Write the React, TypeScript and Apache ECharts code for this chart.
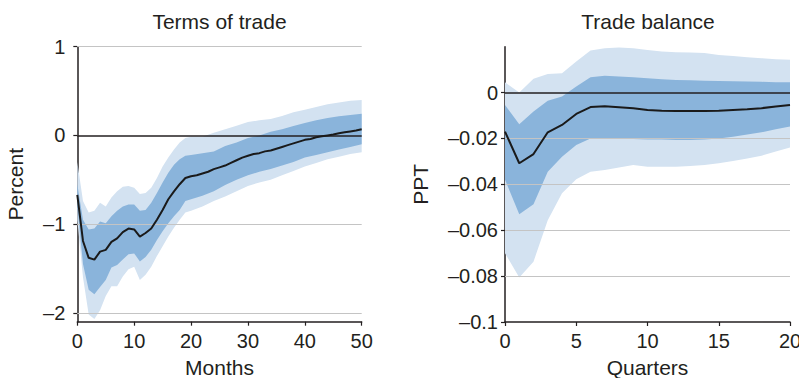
import React, { useEffect, useRef } from "react";
import * as echarts from "echarts";

const FONT = '"Liberation Sans", Arial, Helvetica, sans-serif';
const INK = "#231f20";
const LIGHT_BAND = "#d3e2f1";
const DARK_BAND = "#8ab4db";
const GRID_GREY = "#c4c4c4";

// ---- Terms of trade (months) ----
const months = [
  0, 1, 2, 3, 4, 5, 6, 7, 8, 9, 10, 11, 12, 13, 14, 15, 16, 17, 18, 19, 20,
  21, 22, 23, 24, 25, 26, 27, 28, 29, 30, 31, 32, 33, 34, 35, 36, 37, 38, 39,
  40, 41, 42, 43, 44, 45, 46, 47, 48, 49, 50,
];
const totMedian = [
  -0.67, -1.19, -1.38, -1.4, -1.31, -1.29, -1.2, -1.16, -1.09, -1.05, -1.06,
  -1.14, -1.1, -1.05, -0.95, -0.84, -0.72, -0.63, -0.55, -0.48, -0.46, -0.45,
  -0.43, -0.41, -0.38, -0.36, -0.34, -0.31, -0.28, -0.25, -0.23, -0.21, -0.2,
  -0.18, -0.17, -0.15, -0.13, -0.11, -0.09, -0.07, -0.05, -0.04, -0.02, -0.01,
  0.0, 0.01, 0.025, 0.035, 0.045, 0.055, 0.07,
];
const bandMonths = [
  0, 1, 2, 3, 4, 5, 6, 7, 8, 9, 10, 11, 12, 13, 14, 15, 16, 17, 18, 19, 20,
  22, 24, 26, 28, 30, 32, 34, 36, 38, 40, 42, 44, 46, 48, 50,
];
const totInnerUpper = [
  -0.55, -0.95, -1.06, -1.05, -0.97, -0.99, -0.91, -0.85, -0.8, -0.78, -0.78,
  -0.85, -0.84, -0.76, -0.65, -0.53, -0.42, -0.33, -0.27, -0.23, -0.22,
  -0.2, -0.18, -0.12, -0.08, -0.03, 0.0, 0.04, 0.07, 0.105, 0.14, 0.17, 0.195,
  0.215, 0.23, 0.245,
];
const totInnerLower = [
  -0.8, -1.45, -1.74, -1.79, -1.71, -1.63, -1.49, -1.46, -1.4, -1.34, -1.33,
  -1.42, -1.37, -1.29, -1.18, -1.08, -0.99, -0.91, -0.84, -0.74, -0.72,
  -0.68, -0.63, -0.56, -0.5, -0.45, -0.41, -0.38, -0.34, -0.3, -0.25, -0.22,
  -0.19, -0.16, -0.13, -0.1,
];
const totOuterUpper = [
  -0.3, -0.74, -0.87, -0.85, -0.76, -0.8, -0.7, -0.63, -0.58, -0.57, -0.59,
  -0.66, -0.65, -0.59, -0.48, -0.35, -0.25, -0.16, -0.08, -0.03, -0.015,
  -0.015, 0.03, 0.07, 0.11, 0.15, 0.17, 0.185, 0.22, 0.26, 0.29, 0.32, 0.35,
  0.37, 0.39, 0.4,
];
const totOuterLower = [
  -0.95, -1.6, -2.02, -2.07, -1.97, -1.81, -1.7, -1.7, -1.59, -1.51, -1.48,
  -1.63, -1.57, -1.48, -1.36, -1.25, -1.14, -1.04, -0.95, -0.87, -0.85,
  -0.8, -0.74, -0.69, -0.63, -0.57, -0.53, -0.5, -0.45, -0.4, -0.35, -0.31,
  -0.27, -0.24, -0.21, -0.19,
];
const totTicks = [-2, -1, 0, 1];
const totGrid = [-2, -1, 1];

// ---- Trade balance (quarters) ----
const quarters = [
  0, 1, 2, 3, 4, 5, 6, 7, 8, 9, 10, 11, 12, 13, 14, 15, 16, 17, 18, 19, 20,
];
const tbMedian = [
  -0.017, -0.0308, -0.0268, -0.0173, -0.0141, -0.0093, -0.0063, -0.006,
  -0.0064, -0.0068, -0.0076, -0.0079, -0.008, -0.008, -0.008, -0.0079,
  -0.0076, -0.0073, -0.0068, -0.0061, -0.0054,
];
const tbInnerUpper = [
  -0.0054, -0.0138, -0.0083, -0.0036, -0.0017, 0.0026, 0.0067, 0.0073, 0.007,
  0.0067, 0.0063, 0.0058, 0.0055, 0.0054, 0.0052, 0.0051, 0.0049, 0.0048,
  0.0047, 0.0045, 0.0045,
];
const tbInnerLower = [
  -0.038, -0.053, -0.0487, -0.0345, -0.028, -0.0228, -0.02, -0.02, -0.02,
  -0.0202, -0.0204, -0.0205, -0.0207, -0.0207, -0.0204, -0.02, -0.0192,
  -0.0183, -0.0173, -0.016, -0.0148,
];
const tbOuterUpper = [
  0.0045, 0.0, 0.006, 0.0081, 0.0084, 0.0135, 0.0183, 0.0193, 0.0196, 0.0193,
  0.0186, 0.0179, 0.0176, 0.0175, 0.0172, 0.0164, 0.016, 0.0154, 0.015,
  0.0145, 0.0143,
];
const tbOuterLower = [
  -0.07, -0.0806, -0.0737, -0.0556, -0.0439, -0.0378, -0.0345, -0.0337,
  -0.0327, -0.0316, -0.0323, -0.0323, -0.0323, -0.032, -0.0316, -0.0308,
  -0.0298, -0.0287, -0.0275, -0.0257, -0.0239,
];
const tbTicks = [-0.1, -0.08, -0.06, -0.04, -0.02, 0];
const tbGrid = [-0.08, -0.06, -0.04, -0.02];

// negative tick labels use a long dash
const fmt = (v: number) => (v < 0 ? "\u2013" + String(Math.abs(v)) : String(v));

function band(
  idx: number,
  xs: number[],
  upper: number[],
  lower: number[],
  color: string,
  z: number
) {
  return {
    type: "custom",
    xAxisIndex: idx,
    yAxisIndex: idx,
    z,
    silent: true,
    clip: true,
    data: xs.map((x, i) => [x, upper[i], lower[i]]),
    encode: { x: 0, y: [1, 2] },
    renderItem: (params: any, api: any) => {
      if (params.dataIndex !== 0) return null;
      const top = xs.map((x, i) => api.coord([x, upper[i]]));
      const bottom = xs.map((x, i) => api.coord([x, lower[i]])).reverse();
      return {
        type: "polygon",
        shape: { points: top.concat(bottom) },
        style: { fill: color },
      };
    },
  };
}

function gridLines(idx: number, values: number[]) {
  return {
    type: "line",
    xAxisIndex: idx,
    yAxisIndex: idx,
    data: [],
    z: 3,
    silent: true,
    markLine: {
      silent: true,
      symbol: ["none", "none"],
      label: { show: false },
      animation: false,
      data: [
        ...values.map((v) => ({
          yAxis: v,
          lineStyle: { color: GRID_GREY, width: 1, type: "solid" },
        })),
        { yAxis: 0, lineStyle: { color: INK, width: 1.5, type: "solid" } },
      ],
    },
  };
}

function medianLine(idx: number, xs: number[], ys: number[]) {
  return {
    type: "line",
    xAxisIndex: idx,
    yAxisIndex: idx,
    z: 5,
    silent: true,
    symbol: "none",
    data: xs.map((x, i) => [x, ys[i]]),
    lineStyle: { color: "#1a1a1a", width: 2 },
  };
}

const axisLine = { show: true, onZero: false, lineStyle: { color: INK, width: 1.5 } };
const tickStyle = { color: INK, width: 1.2 };
const labelText = { color: INK, fontSize: 20, fontFamily: FONT };
const nameText = { color: INK, fontSize: 21, fontFamily: FONT };

export default function App() {
  const ref = useRef<HTMLDivElement>(null);

  useEffect(() => {
    if (!ref.current) return;
    const chart = echarts.init(ref.current, undefined, { renderer: "svg" });
    chart.setOption({
      animation: false,
      backgroundColor: "#ffffff",
      textStyle: { fontFamily: FONT },
      grid: [
        { left: 77.3, top: 46.7, width: 284.4, height: 275, containLabel: false, outerBoundsMode: "none" },
        { left: 505, top: 46.7, width: 285, height: 275.3, containLabel: false, outerBoundsMode: "none" },
      ],
      graphic: [
        {
          type: "text",
          x: 219.5,
          y: 21,
          style: {
            text: "Terms of trade",
            fill: INK,
            font: `21px ${FONT}`,
            textAlign: "center",
            textVerticalAlign: "middle",
          },
        },
        {
          type: "text",
          x: 648,
          y: 21,
          style: {
            text: "Trade balance",
            fill: INK,
            font: `21px ${FONT}`,
            textAlign: "center",
            textVerticalAlign: "middle",
          },
        },
      ],
      xAxis: [
        {
          gridIndex: 0,
          type: "value",
          min: 0,
          max: 50,
          interval: 10,
          axisLine,
          axisTick: { show: true, length: 4, lineStyle: tickStyle },
          axisLabel: { ...labelText, margin: 9 },
          splitLine: { show: false },
          name: "Months",
          nameLocation: "middle",
          nameGap: 35,
          nameTextStyle: nameText,
        },
        {
          gridIndex: 1,
          type: "value",
          min: 0,
          max: 20,
          interval: 5,
          axisLine,
          axisTick: { show: true, length: 4, lineStyle: tickStyle },
          axisLabel: { ...labelText, margin: 9 },
          splitLine: { show: false },
          name: "Quarters",
          nameLocation: "middle",
          nameGap: 35,
          nameTextStyle: nameText,
        },
      ],
      yAxis: [
        {
          gridIndex: 0,
          type: "value",
          min: -2.1,
          max: 1,
          axisLine,
          axisTick: { show: true, length: 4, lineStyle: tickStyle, customValues: totTicks },
          axisLabel: { ...labelText, margin: 12, customValues: totTicks, formatter: fmt },
          splitLine: { show: false },
          name: "Percent",
          nameLocation: "middle",
          nameRotate: 90,
          nameGap: 51,
          nameTextStyle: nameText,
        },
        {
          gridIndex: 1,
          type: "value",
          min: -0.1,
          max: 0.02,
          axisLine,
          axisTick: { show: true, length: 4, lineStyle: tickStyle, customValues: tbTicks },
          axisLabel: { ...labelText, margin: 7, customValues: tbTicks, formatter: fmt },
          splitLine: { show: false },
          name: "PPT",
          nameLocation: "middle",
          nameRotate: 90,
          nameGap: 74,
          nameTextStyle: nameText,
        },
      ],
      series: [
        band(0, bandMonths, totOuterUpper, totOuterLower, LIGHT_BAND, 1),
        band(0, bandMonths, totInnerUpper, totInnerLower, DARK_BAND, 2),
        gridLines(0, totGrid),
        medianLine(0, months, totMedian),
        band(1, quarters, tbOuterUpper, tbOuterLower, LIGHT_BAND, 1),
        band(1, quarters, tbInnerUpper, tbInnerLower, DARK_BAND, 2),
        gridLines(1, tbGrid),
        medianLine(1, quarters, tbMedian),
      ],
    });
    return () => chart.dispose();
  }, []);

  return (
    <div
      ref={ref}
      style={{ position: "fixed", left: 0, top: 0, width: 799, height: 378 }}
    />
  );
}
